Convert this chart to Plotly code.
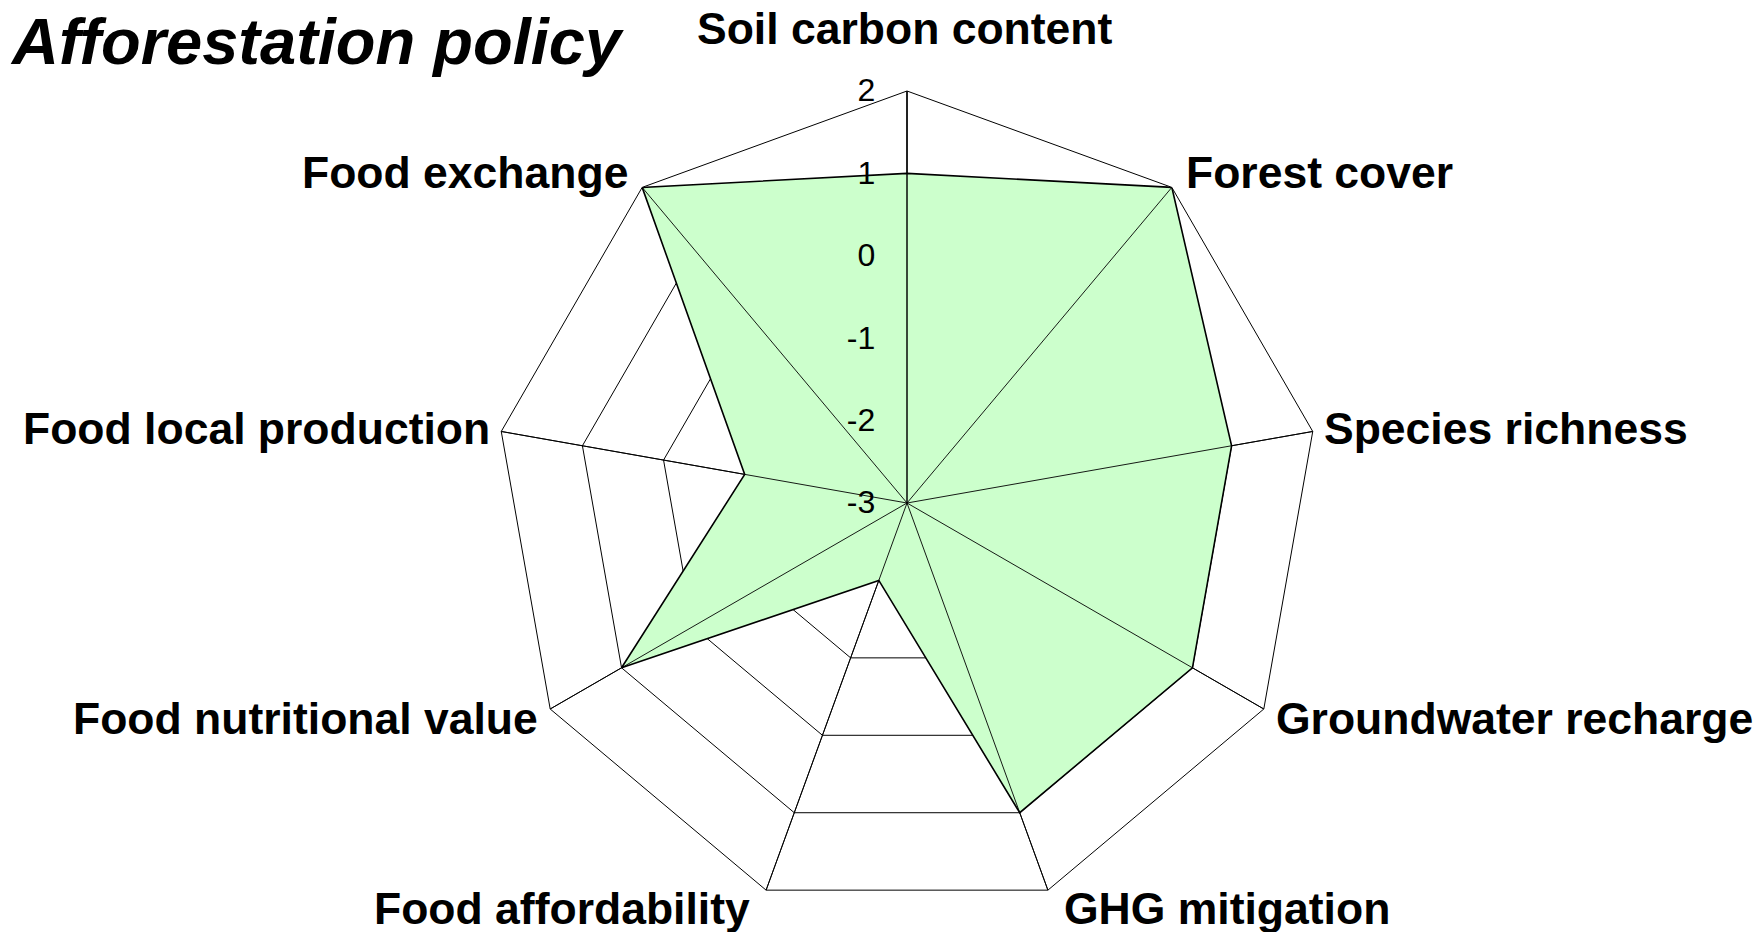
import math
import plotly.graph_objects as go

categories = [
    "Soil carbon content", "Forest cover", "Species richness", "Groundwater recharge",
    "GHG mitigation", "Food affordability", "Food nutritional value",
    "Food local production", "Food exchange",
]
scores = [1, 2, 1, 1, 1, -2, 1, -1, 2]
radial_ticks = [-3, -2, -1, 0, 1, 2]
r_min, r_max = -3, 2

FONT = "Liberation Sans, Arial, sans-serif"
W, H = 1764, 932
BODY = 8  # default page margin of the html body, shifts the whole figure
# chart centre / radius in screen pixels
CX, CY, R = 907, 503, 412
# label ring (the original is slightly wider than tall)
LA, LB = 404.5, 419


def px_x(x):
    return (x - BODY) / W


def px_y(y):
    return 1 - (y - BODY) / H


fig = go.Figure()

# filled policy polygon
fig.add_trace(go.Scatterpolar(
    r=scores + scores[:1], theta=categories + categories[:1],
    mode="lines", fill="toself", fillcolor="#ccffcc",
    line=dict(color="black", width=1.6), hoverinfo="skip",
))

# spokes drawn over the fill, like the original chart
spoke_r, spoke_t = [], []
for c in categories:
    spoke_r += [r_min, r_max, None]
    spoke_t += [c, c, c]
fig.add_trace(go.Scatterpolar(
    r=spoke_r, theta=spoke_t, mode="lines",
    line=dict(color="black", width=0.9), hoverinfo="skip",
))

# category labels placed beside each outer vertex
annotations = []
n = len(categories)
for i, c in enumerate(categories):
    a = math.radians(90 - 360 / n * i)
    cos, sin = math.cos(a), math.sin(a)
    vx = CX + LA * cos
    vy = CY - LB * sin
    if abs(cos) < 0.1:
        x, y, xa = vx - 2, 29, "center"
    else:
        x = vx + (17 if cos > 0 else -17)
        y = vy - sin * 12
        xa = "left" if cos > 0 else "right"
    annotations.append(dict(
        text=c, x=px_x(x), y=px_y(y), xref="paper", yref="paper",
        xanchor=xa, yanchor="middle", showarrow=False,
        font=dict(family=FONT, size=44.5, color="black", weight="bold"),
    ))

fig.update_layout(
    width=W, height=H,
    margin=dict(l=0, r=0, t=0, b=0),
    paper_bgcolor="white",
    showlegend=False,
    title=dict(
        text="Afforestation policy", x=px_x(12), xanchor="left",
        y=px_y(41.5), yanchor="middle", xref="container", yref="container",
        font=dict(family=FONT, size=65, color="black", weight="bold", style="italic"),
    ),
    annotations=annotations,
    polar=dict(
        domain=dict(x=[px_x(CX - R), px_x(CX + R)], y=[px_y(CY + R), px_y(CY - R)]),
        bgcolor="white",
        gridshape="linear",
        radialaxis=dict(
            range=[r_min, r_max], tickvals=radial_ticks,
            ticktext=[str(v) for v in radial_ticks], angle=90, tickangle=90,
            side="counterclockwise", showline=True, linecolor="black", linewidth=1,
            gridcolor="black", gridwidth=1, ticks="outside", ticklen=20,
            tickcolor="rgba(0,0,0,0)",
            tickfont=dict(family=FONT, size=32, color="black"),
        ),
        angularaxis=dict(
            categoryarray=categories, categoryorder="array",
            rotation=90, direction="clockwise",
            showticklabels=False, ticks="",
            showline=True, linecolor="black", linewidth=1,
            gridcolor="black", gridwidth=1,
        ),
    ),
)

fig.write_html("out.html")
